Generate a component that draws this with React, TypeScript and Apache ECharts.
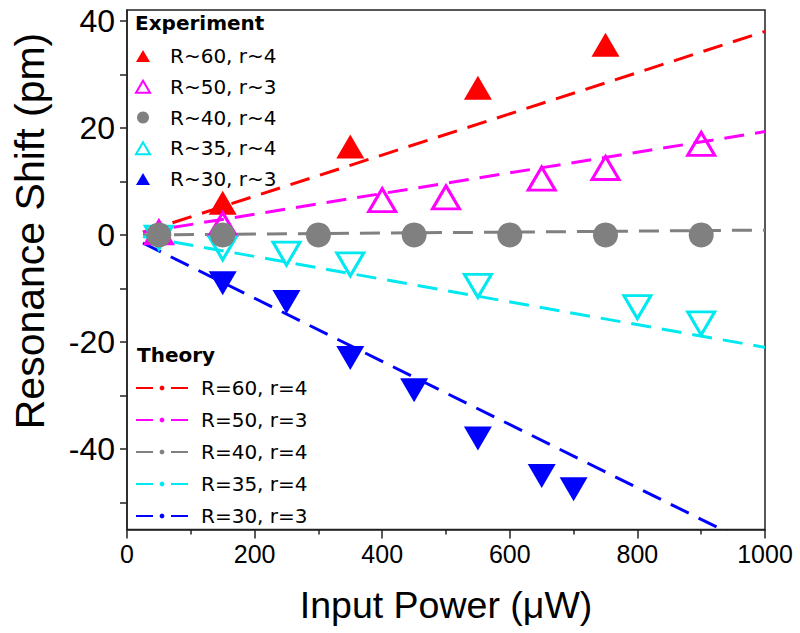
import React, { useEffect, useRef } from "react";
import * as echarts from "echarts";

// ---- data ----
const expNames = ["R~60, r~4", "R~50, r~3", "R~40, r~4", "R~35, r~4", "R~30, r~3"];
const theoryNames = ["R=60, r=4", "R=50, r=3", "R=40, r=4", "R=35, r=4", "R=30, r=3"];

const expR60 = [[50, 0.5], [150, 6], [350, 16.5], [550, 27.5], [750, 35.5]];
const expR50 = [[50, 0.5], [150, 2], [400, 6.5], [500, 7], [650, 10.5], [750, 12.5], [900, 17]];
const expR40 = [[50, 0], [150, 0], [300, 0], [450, 0], [600, 0], [750, 0], [900, 0]];
const expR35 = [[50, -0.5], [150, -2.5], [250, -3.5], [350, -5.5], [550, -9.5], [800, -13.5], [900, -16.5]];
const expR30 = [[150, -9], [250, -12.5], [350, -23], [450, -29], [550, -38], [650, -45], [700, -47.5]];

const thR60 = [[25, 0.5], [1000, 38]];
const thR50 = [[25, 0.5], [1000, 19.3]];
const thR40 = [[25, 0], [1000, 0.9]];
const thR35 = [[25, -0.3], [1000, -21]];
const thR30 = [[25, -1.5], [1000, -59]];

const xTickLabels = [0, 200, 400, 600, 800, 1000];
const yLabelValues = [-40, -20, 0, 20, 40];
const yTickValues = [-50, -40, -30, -20, -10, 0, 10, 20, 30, 40];

const colors = ["#ff0000", "#ff00ff", "#808080", "#00e8f0", "#0000ff"];

const axisFont = "'Liberation Sans', Arial, sans-serif";
const legendFont = "'DejaVu Sans', sans-serif";

export default function App() {
  const ref = useRef<HTMLDivElement>(null);
  useEffect(() => {
    document.body.style.margin = "0";
    if (!ref.current) return;
    const chart = echarts.init(ref.current, undefined, { renderer: "svg" });
    const axisColor = "#222";
    const expData = [expR60, expR50, expR40, expR35, expR30];
    const thData = [thR60, thR50, thR40, thR35, thR30];
    const symbols = ["triangle", "triangle", "circle", "triangle", "triangle"];
    const rotates = [0, 0, 0, 180, 180];
    const hollow = [false, true, false, true, false];
    const sizes: any[] = [[28, 24], [27, 23], 25, [27, 23], [28, 24]];

    const lineSeries = thData.map((d, i) => ({
      name: theoryNames[i],
      type: "line",
      data: d,
      symbol: "none",
      showSymbol: false,
      silent: true,
      z: 2,
      lineStyle: { color: colors[i], width: 3, type: [20, 11] },
      itemStyle: { color: colors[i] },
    }));
    const scatterSeries = expData.map((d, i) => ({
      name: expNames[i],
      type: "scatter",
      data: d,
      symbol: symbols[i],
      symbolRotate: rotates[i],
      symbolSize: sizes[i],
      z: i === 2 ? 4 : 3,
      itemStyle: hollow[i]
        ? { color: "rgba(255,255,255,0)", borderColor: colors[i], borderWidth: 3, opacity: 1 }
        : { color: colors[i], borderWidth: 0, opacity: 1 },
    }));

    chart.setOption({
      animation: false,
      backgroundColor: "#fff",
      grid: {
        left: 127, right: 35, top: 10, bottom: 103.5,
        show: true, borderColor: axisColor, borderWidth: 1.5, backgroundColor: "transparent",
      },
      xAxis: {
        type: "value", min: 0, max: 1000, interval: 200,
        axisLine: { show: true, onZero: false, lineStyle: { color: axisColor, width: 1.5 } },
        axisTick: { show: true, inside: false, length: 9, lineStyle: { color: axisColor, width: 1.5 } },
        minorTick: { show: true, splitNumber: 2, length: 5, lineStyle: { color: axisColor, width: 1.5 } },
        splitLine: { show: false },
        axisLabel: {
          color: "#000", fontSize: 25, fontFamily: axisFont, margin: 12,
          formatter: (v: number) => (xTickLabels.indexOf(v) >= 0 ? String(v) : ""),
        },
        name: "Input Power (μW)", nameLocation: "middle", nameGap: 56,
        nameTextStyle: { color: "#000", fontSize: 37.5, fontFamily: axisFont },
      },
      yAxis: {
        type: "value", min: -55, max: 42,
        axisLine: { show: true, onZero: false, lineStyle: { color: axisColor, width: 1.5 } },
        axisTick: { show: true, inside: false, length: 7, customValues: yTickValues, lineStyle: { color: axisColor, width: 1.5 } },
        splitLine: { show: false },
        axisLabel: { color: "#000", fontSize: 32, fontFamily: axisFont, margin: 12, customValues: yLabelValues },
      },
      legend: [
        {
          data: expNames, orient: "vertical", left: 130, top: 41,
          itemWidth: 14, itemHeight: 12, itemGap: 10.75, selectedMode: false,
          itemStyle: { borderWidth: 2 },
          textStyle: { color: "#000", fontSize: 20, fontFamily: legendFont, lineHeight: 20, padding: [0, 0, 0, 15] },
        },
        {
          data: theoryNames, orient: "vertical", left: 130, top: 373,
          itemWidth: 52, itemHeight: 6, itemGap: 12, selectedMode: false,
          lineStyle: { type: [17, 18, 17, 18] },
          textStyle: { color: "#000", fontSize: 20, fontFamily: legendFont, lineHeight: 20, padding: [0, 0, 0, 8] },
        },
      ],
      graphic: [
        { type: "text", left: 135, top: 13, style: { text: "Experiment", font: "bold 20px 'DejaVu Sans', sans-serif", fill: "#000" } },
        { type: "text", left: 137, top: 345, style: { text: "Theory", font: "bold 20px 'DejaVu Sans', sans-serif", fill: "#000" } },
        {
          type: "text", x: 30, y: 231, rotation: Math.PI / 2,
          style: { text: "Resonance Shift (pm)", font: "41px 'Liberation Sans', Arial, sans-serif", fill: "#000", align: "center", verticalAlign: "middle" },
        },
      ],
      series: [...lineSeries, ...scatterSeries],
    });
    return () => chart.dispose();
  }, []);
  return <div ref={ref} style={{ width: 800, height: 633 }} />;
}
